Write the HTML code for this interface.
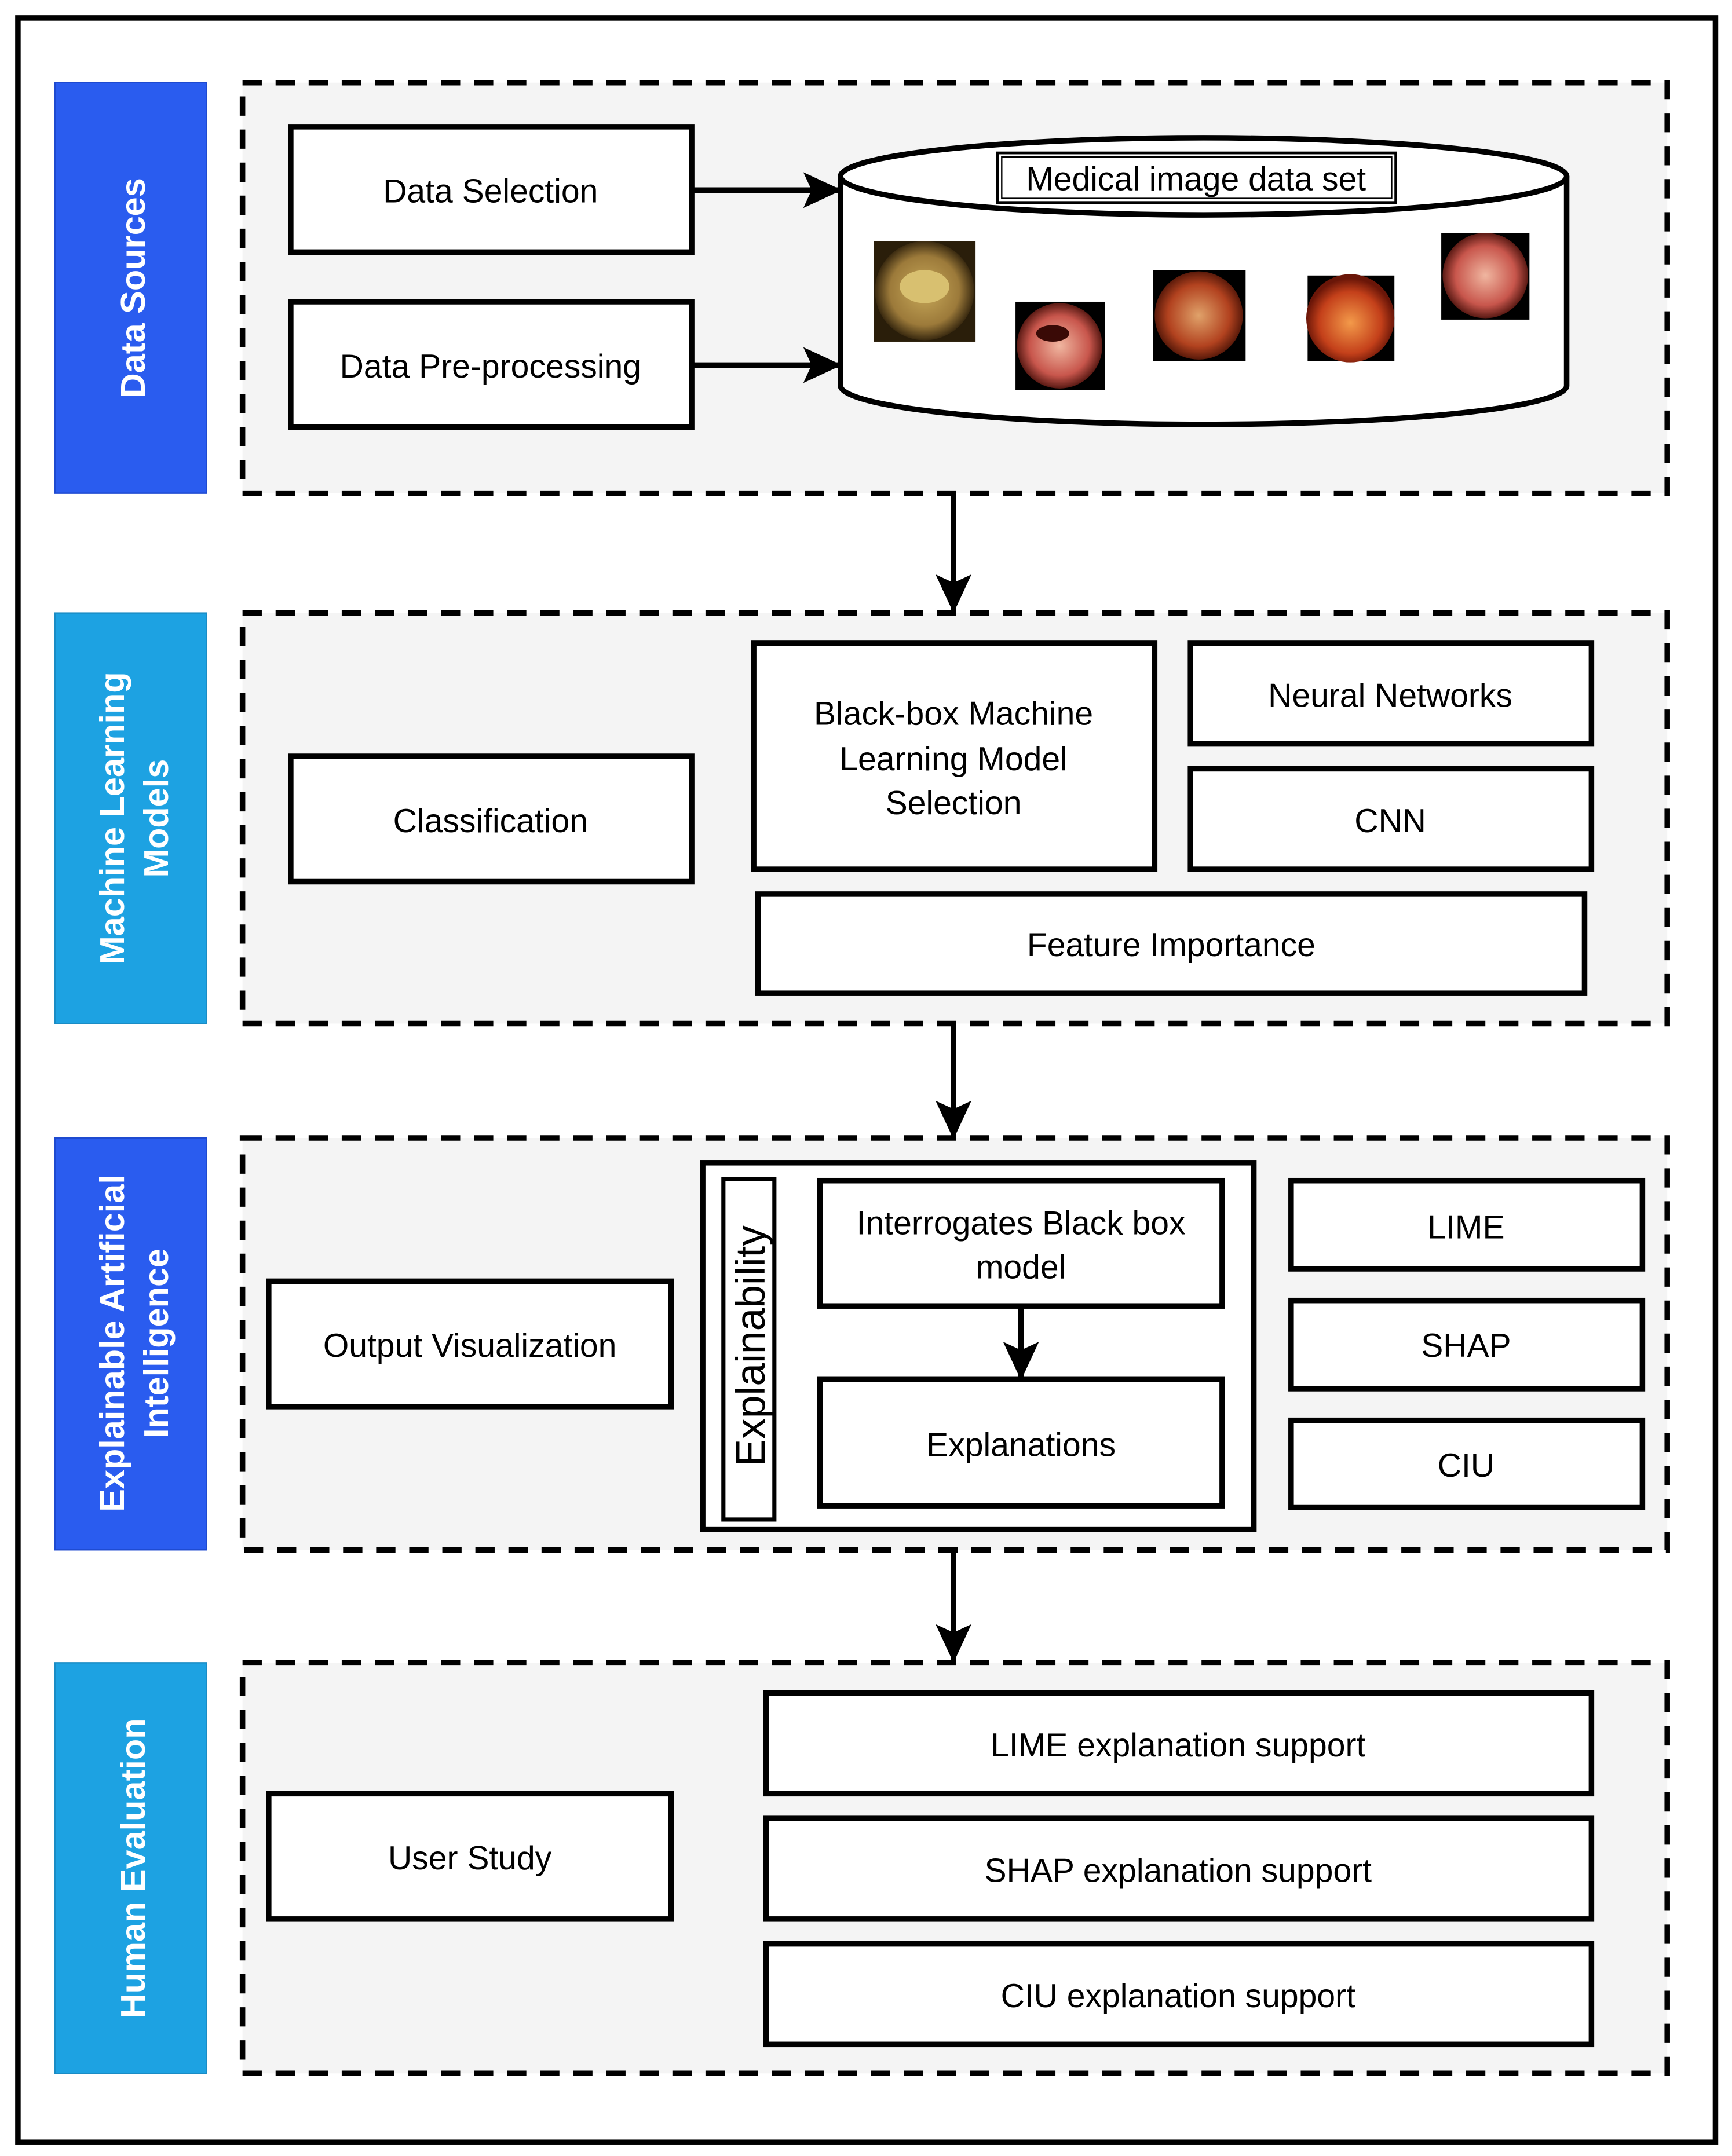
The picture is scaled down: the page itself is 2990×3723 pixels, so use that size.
<!DOCTYPE html>
<html><head><meta charset="utf-8"><style>
html,body{margin:0;padding:0;background:#fff;}
svg{display:block;}
text{font-family:"Liberation Sans",sans-serif;}
</style></head><body>
<svg width="2990" height="3723" viewBox="0 0 1257 1565" preserveAspectRatio="none" xmlns="http://www.w3.org/2000/svg">
<defs>
<marker id="ah" markerWidth="28" markerHeight="28" refX="26" refY="14" orient="auto" markerUnits="userSpaceOnUse" viewBox="0 0 28 28">
<path d="M0,1 L28,14 L0,27 L6,14 z" fill="#000"/></marker>
<radialGradient id="g1" cx="50%" cy="50%" r="50%"><stop offset="0" stop-color="#e0a26a"/><stop offset="0.7" stop-color="#b2421f"/><stop offset="1" stop-color="#5a1a0a"/></radialGradient>
<radialGradient id="g2" cx="50%" cy="55%" r="50%"><stop offset="0" stop-color="#f39a4a"/><stop offset="0.7" stop-color="#c4401a"/><stop offset="1" stop-color="#6a1608"/></radialGradient>
<radialGradient id="g3" cx="50%" cy="50%" r="50%"><stop offset="0" stop-color="#f0b6a0"/><stop offset="0.7" stop-color="#c8564c"/><stop offset="1" stop-color="#5a1a14"/></radialGradient>
<radialGradient id="g0" cx="50%" cy="50%" r="50%"><stop offset="0" stop-color="#c8a95a"/><stop offset="0.7" stop-color="#9c7a3a"/><stop offset="1" stop-color="#3a2a10"/></radialGradient>
</defs>
<rect x="0" y="0" width="1257" height="1565" fill="#fff"/>
<rect x="13" y="13" width="1232" height="1542" fill="#fff" stroke="#000" stroke-width="4"/>

<rect x="40" y="60" width="110" height="298" fill="#2a5cef" stroke="#1e4ad0" stroke-width="1"/>
<rect x="40" y="445" width="110" height="298" fill="#1da2e2" stroke="#1a8cc5" stroke-width="1"/>
<rect x="40" y="826" width="110" height="299" fill="#2a5cef" stroke="#1e4ad0" stroke-width="1"/>
<rect x="40" y="1207" width="110" height="298" fill="#1da2e2" stroke="#1a8cc5" stroke-width="1"/>
<g fill="#fff" font-weight="bold" font-size="25" text-anchor="middle">
<text transform="translate(105,209) rotate(-90)">Data Sources</text>
<text transform="translate(90,594) rotate(-90)">Machine Learning</text>
<text transform="translate(122,594) rotate(-90)">Models</text>
<text transform="translate(90,975) rotate(-90)">Explainable Artificial</text>
<text transform="translate(122,975) rotate(-90)">Intelligence</text>
<text transform="translate(105,1356) rotate(-90)">Human Evaluation</text>
</g>

<g fill="#f4f4f4" stroke="#000" stroke-width="4" stroke-dasharray="14,10">
<rect x="176" y="60" width="1034" height="298"/>
<rect x="176" y="445" width="1034" height="298"/>
<rect x="176" y="826" width="1034" height="299"/>
<rect x="176" y="1207" width="1034" height="298"/>
</g>

<g fill="#fff" stroke="#000" stroke-width="4">
<rect x="211" y="92" width="291" height="91"/>
<rect x="211" y="219" width="291" height="91"/>
<rect x="211" y="549" width="291" height="91"/>
<rect x="547" y="467" width="291" height="164"/>
<rect x="864" y="467" width="291" height="73"/>
<rect x="864" y="558" width="291" height="73"/>
<rect x="550" y="649" width="600" height="72"/>
<rect x="195" y="930" width="292" height="91"/>
<rect x="510" y="844" width="400" height="266"/>
<rect x="937" y="857" width="255" height="64"/>
<rect x="937" y="944" width="255" height="64"/>
<rect x="937" y="1031" width="255" height="63"/>
<rect x="195" y="1302" width="292" height="91"/>
<rect x="556" y="1229" width="599" height="73"/>
<rect x="556" y="1320" width="599" height="73"/>
<rect x="556" y="1411" width="599" height="73"/>
</g>
<rect x="525" y="856" width="37" height="247" fill="#fff" stroke="#000" stroke-width="3"/>
<g fill="#fff" stroke="#000" stroke-width="4">
<rect x="595" y="857" width="292" height="91"/>
<rect x="595" y="1001" width="292" height="92"/>
</g>

<path d="M610,128 L610,280 A263,28 0 0 0 1137,280 L1137,128" fill="#fff" stroke="#000" stroke-width="4"/>
<ellipse cx="873.5" cy="128" rx="263.5" ry="28" fill="#fff" stroke="#000" stroke-width="4"/>
<rect x="724" y="111" width="289" height="36" fill="#fff" stroke="#000" stroke-width="2"/>
<rect x="727" y="114" width="283" height="30" fill="none" stroke="#000" stroke-width="1"/>

<rect x="634" y="175" width="74" height="73" fill="#2a1e0a"/><circle cx="671" cy="211" r="36" fill="url(#g0)"/><ellipse cx="671" cy="208" rx="18" ry="12" fill="#d8c070"/>
<rect x="737" y="219" width="65" height="64" fill="#000"/><circle cx="769" cy="251" r="31" fill="url(#g3)"/><ellipse cx="764" cy="242" rx="12" ry="6" fill="#3a0a06"/>
<rect x="837" y="196" width="67" height="66" fill="#000"/><circle cx="870" cy="229" r="32" fill="url(#g1)"/>
<rect x="949" y="200" width="63" height="62" fill="#000"/><circle cx="980" cy="231" r="32" fill="url(#g2)"/>
<rect x="1046" y="169" width="64" height="63" fill="#000"/><circle cx="1078" cy="200" r="31" fill="url(#g3)"/>

<g stroke="#000" stroke-width="4" marker-end="url(#ah)">
<line x1="692" y1="358" x2="692" y2="443"/>
<line x1="692" y1="743" x2="692" y2="825"/>
<line x1="692" y1="1125" x2="692" y2="1205"/>
<line x1="502" y1="138" x2="609" y2="138"/>
<line x1="502" y1="265" x2="609" y2="265"/>
<line x1="741" y1="948" x2="741" y2="1000"/>
</g>

<g font-size="24" fill="#000" text-anchor="middle">
<text x="356" y="147">Data Selection</text>
<text x="356" y="274">Data Pre-processing</text>
<text x="868" y="138">Medical image data set</text>
<text x="356" y="604">Classification</text>
<text x="692" y="526">Black-box Machine</text>
<text x="692" y="559">Learning Model</text>
<text x="692" y="591">Selection</text>
<text x="1009" y="513">Neural Networks</text>
<text x="1009" y="604">CNN</text>
<text x="850" y="694">Feature Importance</text>
<text x="341" y="985">Output Visualization</text>
<text x="741" y="896">Interrogates Black box</text>
<text x="741" y="928">model</text>
<text x="741" y="1057">Explanations</text>
<text x="1064" y="899">LIME</text>
<text x="1064" y="985">SHAP</text>
<text x="1064" y="1072">CIU</text>
<text x="341" y="1357">User Study</text>
<text x="855" y="1275">LIME explanation support</text>
<text x="855" y="1366">SHAP explanation support</text>
<text x="855" y="1457">CIU explanation support</text>
<text transform="translate(555,977) rotate(-90)" font-size="30">Explainability</text>
</g>
</svg>
</body></html>
